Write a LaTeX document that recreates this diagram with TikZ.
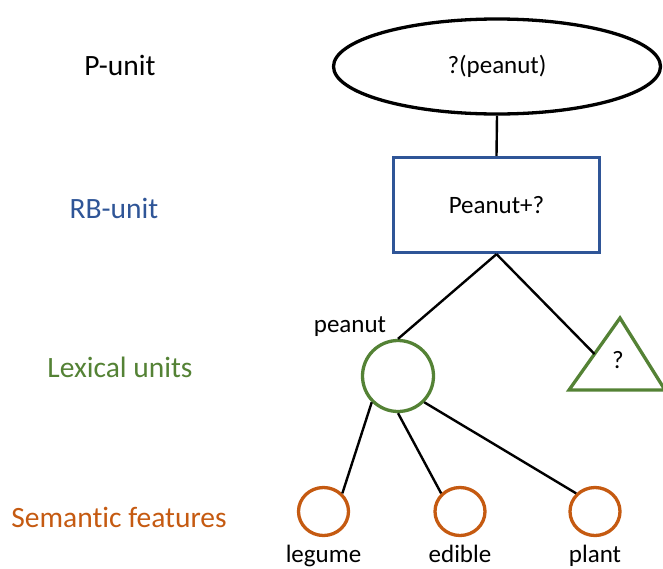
\documentclass[tikz,border=0pt]{standalone}
\usepackage{fontspec}
\setmainfont{Carlito}[Ligatures=NoCommon]
\usetikzlibrary{shapes.geometric,calc}
\definecolor{unitblue}{RGB}{47,85,151}
\definecolor{lexgreen}{RGB}{84,130,53}
\definecolor{semorange}{RGB}{197,90,17}
\begin{document}
\begin{tikzpicture}[x=1pt,y=-1pt,
  levellabel/.style={font=\fontsize{29.5}{34}\selectfont, anchor=base},
  nodetext/.style={font=\fontsize{25}{30}\selectfont},
  wordlabel/.style={nodetext, anchor=base, inner sep=0pt},
  punitshape/.style={ellipse, draw=black, line width=3.3pt, minimum width=327pt, minimum height=95pt, inner sep=0pt, nodetext},
  rbshape/.style={rectangle, draw=unitblue, line width=3.3pt, minimum width=206pt, minimum height=95pt, inner sep=0pt, nodetext},
  lexshape/.style={circle, draw=lexgreen, line width=3.3pt, minimum size=71pt, inner sep=0pt},
  semshape/.style={ellipse, draw=semorange, line width=3.3pt, minimum width=50pt, minimum height=48pt, inner sep=0pt},
  link/.style={draw=black, line width=2.4pt}]
\useasboundingbox (0,0) rectangle (663,568);

% level names on the left
\node[levellabel] (lvlp) at (120,75) {P-unit};
\node[levellabel, text=unitblue] (lvlrb) at (114,218) {RB-unit};
\node[levellabel, text=lexgreen] (lvllex) at (120,377) {Lexical units};
\node[levellabel, text=semorange] (lvlsem) at (119,527) {Semantic features};

% P-unit and RB-unit
\node[punitshape] (punit) at (497,66.5) {?(peanut)};
\node[rbshape] (rb) at (496.5,205) {Peanut+?};

% lexical units
\node[lexshape] (peanut) at (398,376) {};
\node[wordlabel] (peanutlbl) at (350,332) {peanut};

\coordinate (triapex) at (620,318);
\coordinate (trileftc) at (569,390);
\coordinate (trirightc) at (665,390);
\coordinate (trileft) at ($(triapex)!0.5!(trileftc)$);
\draw[draw=lexgreen, line width=3.3pt, line join=miter] (triapex) -- (trileftc) -- (trirightc) -- cycle;
\node[wordlabel] (unknown) at (618,368) {?};

% semantic features
\node[semshape] (legume) at (323.5,511.5) {};
\node[semshape] (edible) at (460,511.5) {};
\node[semshape] (plant) at (595,511.5) {};
\node[wordlabel] (legumelbl) at (323.5,562) {legume};
\node[wordlabel] (ediblelbl) at (460,562) {edible};
\node[wordlabel] (plantlbl) at (595,562) {plant};

% connectors
\draw[link] (punit.south) -- (rb.north);
\draw[link] (rb.south) -- (peanut.north);
\draw[link] (rb.south) -- (trileft);
\draw[link] (peanut.south west) -- (legume.north east);
\draw[link] (peanut.south) -- (edible.north west);
\draw[link] (peanut.south east) -- (plant.north west);
\end{tikzpicture}
\end{document}
